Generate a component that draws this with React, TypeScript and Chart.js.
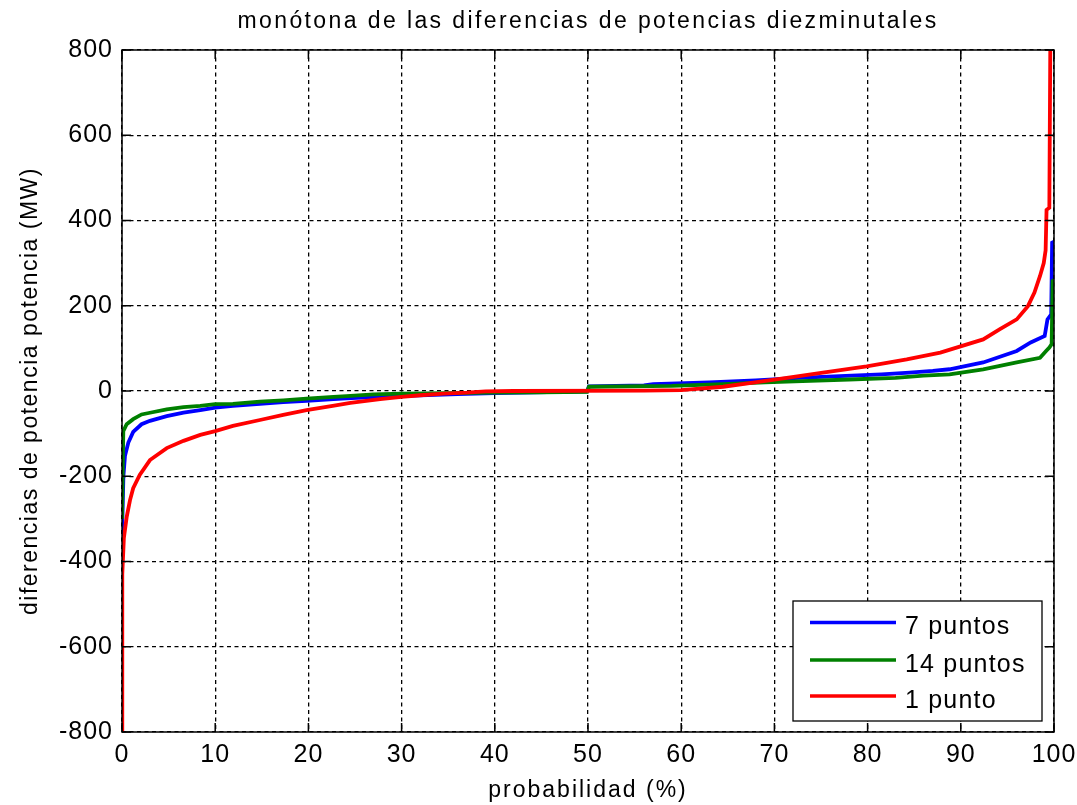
import { useEffect, useRef } from 'react';
import { Chart, registerables } from 'chart.js';

Chart.register(...registerables);

const TITLE = 'monótona de las diferencias de potencias diezminutales';
const X_LABEL = 'probabilidad (%)';
const Y_LABEL = 'diferencias de potencia potencia (MW)';

const X_TICKS = [0, 10, 20, 30, 40, 50, 60, 70, 80, 90, 100];
const Y_TICKS = [-800, -600, -400, -200, 0, 200, 400, 600, 800];

const SERIES_NAMES = ['7 puntos', '14 puntos', '1 punto'];
const SERIES_COLORS = ['#0000ff', '#008000', '#ff0000'];

const BLUE_P = [0, 0.15, 0.32, 0.68, 1.2, 2.1, 3, 4.8, 6.6, 8.4, 10, 11.9, 14.8, 17.3, 19.8, 22.7, 24.1, 28, 32, 36, 40, 43, 47, 49.9, 50.1, 56, 57, 63, 68, 72.6, 77, 81.5, 84.5, 87, 88.8, 92.4, 96, 97.5, 99, 99.3, 99.7, 99.8, 100];
const BLUE_V = [-340, -200, -152, -121, -96, -78, -70, -59, -51, -45, -39, -35, -30, -26, -23, -19, -17, -13, -10, -7, -5, -4, -2, -1, 11, 13, 16, 20, 25, 31, 35, 39, 43, 47, 51, 67, 94, 114, 129, 168, 180, 348, 350];

const GREEN_P = [0, 0.14, 0.5, 1.2, 2.1, 3, 4.8, 6.6, 8.4, 10, 11.9, 14.8, 17.3, 19.8, 22.7, 24.1, 27, 30, 35, 40, 45, 49.9, 50.1, 59, 64.5, 69, 73, 78, 83, 86, 88.8, 92.4, 96, 98.5, 99.2, 99.5, 99.75, 99.85, 100];
const GREEN_V = [-300, -94, -78, -66, -55, -51, -43, -38, -35, -31, -30, -25, -22, -18, -14, -12, -8, -6, -5, -4, -3, -2, 10, 12, 16, 20, 23, 27, 31, 36, 39, 51, 67, 78, 95, 102, 110, 258, 260];

const RED_P = [0, 0.03, 0.2, 0.5, 0.86, 1.2, 1.9, 3, 4.8, 6.6, 8.4, 10, 11.9, 14.8, 17.3, 19.8, 22.6, 24.5, 27.7, 30, 32, 34.5, 37, 39, 42, 56, 60, 61, 64.5, 68.1, 71.7, 75.2, 79.9, 84.2, 87.8, 92.4, 94.2, 96, 97.2, 97.9, 98.5, 98.9, 99.1, 99.2, 99.5, 99.6];
const RED_V = [-800, -430, -345, -296, -256, -228, -197, -162, -134, -117, -103, -94, -82, -68, -56, -45, -35, -28, -19, -14, -10, -6, -4, -1, 0, 1, 2, 4, 10, 21, 32, 43, 58, 74, 90, 121, 145, 168, 199, 231, 270, 300, 330, 425, 430, 800];

const FONT = "'Liberation Sans', Arial, sans-serif";

const toPoints = (p: number[], v: number[]) => p.map((x, i) => ({ x, y: v[i] }));

const decorPlugin = {
  id: 'matlabDecor',
  beforeDraw(chart: any) {
    (chart.ctx as any).letterSpacing = '1px';
  },
  afterDraw(chart: any) {
    const { ctx, chartArea: a, scales } = chart;
    ctx.save();
    (ctx as any).letterSpacing = '0px';
    ctx.setLineDash([]);
    ctx.strokeStyle = '#000';
    ctx.lineWidth = 1.5;
    ctx.strokeRect(a.left, a.top, a.right - a.left, a.bottom - a.top);
    const tl = 9;
    ctx.beginPath();
    X_TICKS.forEach((v) => {
      const x = scales.x.getPixelForValue(v);
      ctx.moveTo(x, a.bottom);
      ctx.lineTo(x, a.bottom - tl);
      ctx.moveTo(x, a.top);
      ctx.lineTo(x, a.top + tl);
    });
    Y_TICKS.forEach((v) => {
      const y = scales.y.getPixelForValue(v);
      ctx.moveTo(a.left, y);
      ctx.lineTo(a.left + tl, y);
      ctx.moveTo(a.right, y);
      ctx.lineTo(a.right - tl, y);
    });
    ctx.stroke();

    const cx = (a.left + a.right) / 2;
    const cy = (a.top + a.bottom) / 2;
    ctx.fillStyle = '#000';
    ctx.textBaseline = 'alphabetic';
    ctx.textAlign = 'center';
    ctx.font = `23px ${FONT}`;
    (ctx as any).letterSpacing = '2.4px';
    ctx.fillText(TITLE, cx, 28);
    (ctx as any).letterSpacing = '2px';
    ctx.fillText(X_LABEL, cx, 797);
    ctx.save();
    ctx.translate(37, cy);
    ctx.rotate(-Math.PI / 2);
    (ctx as any).letterSpacing = '1.5px';
    ctx.fillText(Y_LABEL, 0, 0);
    ctx.restore();

    // legend
    const bw = 249;
    const bh = 120;
    const bx = a.right - 12 - bw;
    const by = a.bottom - 11 - bh;
    ctx.fillStyle = '#fff';
    ctx.fillRect(bx, by, bw, bh);
    ctx.strokeStyle = '#000';
    ctx.lineWidth = 1.3;
    ctx.strokeRect(bx, by, bw, bh);
    const rows = [21.5, 59, 95];
    chart.data.datasets.forEach((ds: any, i: number) => {
      const y = by + rows[i];
      ctx.strokeStyle = ds.borderColor;
      ctx.lineWidth = 3.3;
      ctx.beginPath();
      ctx.moveTo(bx + 17, y);
      ctx.lineTo(bx + 103, y);
      ctx.stroke();
      ctx.fillStyle = '#000';
      ctx.font = `25px ${FONT}`;
      (ctx as any).letterSpacing = '1.2px';
      ctx.textAlign = 'left';
      ctx.fillText(ds.label, bx + 112, y + 11.5);
    });
    ctx.restore();
  },
};

export default function App() {
  const ref = useRef<HTMLCanvasElement>(null);
  useEffect(() => {
    const seriesP = [BLUE_P, GREEN_P, RED_P];
    const seriesV = [BLUE_V, GREEN_V, RED_V];
    const chart = new Chart(ref.current as HTMLCanvasElement, {
      type: 'line',
      data: {
        datasets: SERIES_NAMES.map((name, i) => ({
          label: name,
          data: toPoints(seriesP[i], seriesV[i]),
          borderColor: SERIES_COLORS[i],
          backgroundColor: SERIES_COLORS[i],
          borderWidth: 3.8,
          pointRadius: 0,
          tension: 0,
          fill: false,
          order: 2 - i,
        })),
      },
      options: {
        responsive: false,
        devicePixelRatio: 1,
        animation: false,
        events: [],
        layout: { padding: { top: 50, right: 23, left: 0, bottom: 0 } },
        plugins: {
          legend: { display: false },
          tooltip: { enabled: false },
          title: { display: false },
        },
        scales: {
          x: {
            type: 'linear',
            min: 0,
            max: 100,
            afterBuildTicks: (s: any) => {
              s.ticks = X_TICKS.map((v) => ({ value: v }));
            },
            afterFit: (s: any) => {
              s.height = 73;
              s.paddingLeft = 0;
              s.paddingRight = 0;
            },
            ticks: {
              font: { family: FONT, size: 25 },
              color: '#000',
              padding: 8,
              maxRotation: 0,
              autoSkip: false,
            },
            grid: { color: '#000', lineWidth: 1.3, drawTicks: false },
            border: { display: false, dash: [4, 3.5] },
          },
          y: {
            type: 'linear',
            min: -800,
            max: 800,
            afterBuildTicks: (s: any) => {
              s.ticks = Y_TICKS.map((v) => ({ value: v }));
            },
            afterFit: (s: any) => {
              s.width = 122;
              s.paddingTop = 0;
              s.paddingBottom = 0;
            },
            ticks: {
              font: { family: FONT, size: 25 },
              color: '#000',
              padding: 9,
            },
            grid: { color: '#000', lineWidth: 1.3, drawTicks: false },
            border: { display: false, dash: [4, 3.5] },
          },
        },
      },
      plugins: [decorPlugin],
    } as any);
    return () => chart.destroy();
  }, []);
  return (
    <div style={{ position: 'absolute', left: 0, top: 0, width: 1077, height: 805, background: '#fff' }}>
      <canvas ref={ref} width={1077} height={805} style={{ display: 'block' }} />
    </div>
  );
}
